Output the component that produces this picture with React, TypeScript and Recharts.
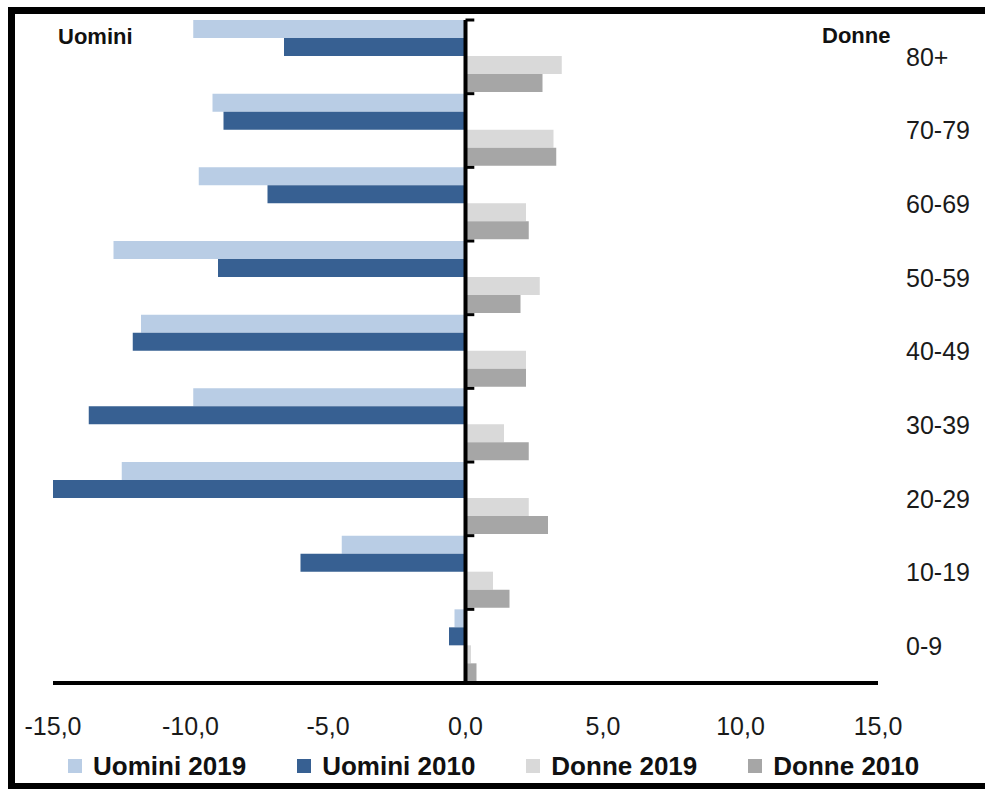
import { BarChart, Bar, XAxis, YAxis, ReferenceLine, Legend } from 'recharts';

// age bands, top to bottom
const ages = ['80+', '70-79', '60-69', '50-59', '40-49', '30-39', '20-29', '10-19', '0-9'];
// men are plotted on the negative side
const uomini2019 = [-9.9, -9.2, -9.7, -12.8, -11.8, -9.9, -12.5, -4.5, -0.4];
const uomini2010 = [-6.6, -8.8, -7.2, -9.0, -12.1, -13.7, -15.0, -6.0, -0.6];
const donne2019 = [3.5, 3.2, 2.2, 2.7, 2.2, 1.4, 2.3, 1.0, 0.2];
const donne2010 = [2.8, 3.3, 2.3, 2.0, 2.2, 2.3, 3.0, 1.6, 0.4];
const xTicks = [-15, -10, -5, 0, 5, 10, 15];

const series = [
  { key: 'u2019', name: 'Uomini 2019', color: '#B9CDE5' },
  { key: 'u2010', name: 'Uomini 2010', color: '#376092' },
  { key: 'd2019', name: 'Donne 2019', color: '#D9D9D9' },
  { key: 'd2010', name: 'Donne 2010', color: '#A6A6A6' },
];

const data = ages.map((age, i) => ({
  age,
  u2019: uomini2019[i],
  u2010: uomini2010[i],
  d2019: donne2019[i],
  d2010: donne2010[i],
}));

const fmt = (v: number) => v.toFixed(1).replace('.', ',');

function LegendRow() {
  return (
    <div style={{ display: 'flex', alignItems: 'center', height: 30, gap: 51 }}>
      {series.map((s) => (
        <div key={s.key} style={{ display: 'flex', alignItems: 'center' }}>
          <span style={{ width: 14, height: 14, background: s.color, marginRight: 11, display: 'inline-block' }} />
          <span style={{ fontSize: 26, fontWeight: 700, color: '#111', lineHeight: '30px' }}>{s.name}</span>
        </div>
      ))}
    </div>
  );
}

export default function App() {
  return (
    <div
      style={{
        position: 'fixed',
        left: 0,
        top: 0,
        width: 985,
        height: 789,
        background: '#fff',
        overflow: 'hidden',
        fontFamily: '"Liberation Sans", Arial, sans-serif',
      }}
    >
      <div
        style={{
          position: 'absolute',
          left: 8,
          top: 7,
          width: 1000,
          height: 783,
          boxSizing: 'border-box',
          border: '7px solid #000',
        }}
      />
      <div style={{ position: 'absolute', left: 0, top: 0 }}>
        <BarChart
          width={985}
          height={789}
          data={data}
          layout="vertical"
          barCategoryGap={0}
          barGap={0}
          margin={{ top: 20, right: 0, bottom: 36, left: 53 }}
        >
          <XAxis
            type="number"
            domain={[-15, 15]}
            ticks={xTicks}
            tickFormatter={fmt}
            axisLine={{ stroke: '#000', strokeWidth: 4 }}
            tickLine={false}
            tickMargin={28}
            height={40}
            tick={{ fill: '#1a1a1a', fontSize: 25 }}
          />
          <YAxis
            type="category"
            dataKey="age"
            orientation="right"
            width={107}
            axisLine={false}
            tickLine={false}
            tickMargin={22}
            tick={{ fill: '#1a1a1a', fontSize: 25 }}
          />
          {series.map((s) => (
            <Bar key={s.key} dataKey={s.key} name={s.name} fill={s.color} isAnimationActive={false} />
          ))}
          <ReferenceLine x={0} stroke="#000" strokeWidth={4} />
          {ages.map((age) => (
            <ReferenceLine
              key={'t' + age}
              segment={[{ x: 0, y: age }, { x: 0.32, y: age }]}
              position="start"
              stroke="#000"
              strokeWidth={3}
              ifOverflow="visible"
            />
          ))}
          <Legend
            verticalAlign="bottom"
            content={() => <LegendRow />}
            wrapperStyle={{ left: 68, top: 751, bottom: 'auto', width: 900, height: 30 }}
          />
        </BarChart>
      </div>
      <svg width={985} height={789} style={{ position: 'absolute', left: 0, top: 0, pointerEvents: 'none' }}>
        <text x={58} y={44} fontSize={22} fontWeight={700} fill="#111">
          Uomini
        </text>
        <text x={822} y={43} fontSize={22} fontWeight={700} fill="#111">
          Donne
        </text>
      </svg>
    </div>
  );
}
